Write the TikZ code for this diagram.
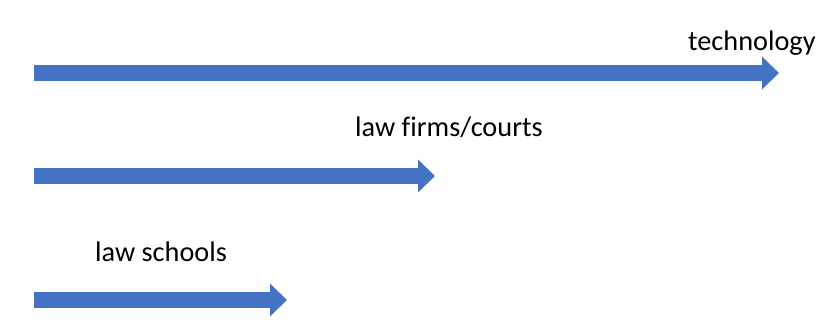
\documentclass[tikz,border=0pt]{standalone}
\usepackage{fontspec}
\setmainfont[Ligatures=NoCommon]{Carlito}
\usetikzlibrary{arrows.meta}
\definecolor{arrowblue}{HTML}{4472C4}
\tikzset{
  blockarrow/.style={draw=arrowblue, line width=16pt, -{Triangle[width=32pt,length=17pt]}},
  lbl/.style={anchor=base west, inner sep=0pt, font=\fontsize{28.3pt}{32pt}\selectfont, text=black}
}
\begin{document}
\begin{tikzpicture}[x=1pt,y=-1pt]
\useasboundingbox[fill=white] (0,0) rectangle (820,333);
\coordinate (t0) at (34,73);
\coordinate (t1) at (779,73);
\coordinate (f0) at (34,176);
\coordinate (f1) at (435,176);
\coordinate (s0) at (34,300);
\coordinate (s1) at (287,300);
\draw[blockarrow] (t0) -- (t1);
\draw[blockarrow] (f0) -- (f1);
\draw[blockarrow] (s0) -- (s1);
\node[lbl] (tech) at (688,50) {technology};
\node[lbl] (firms) at (355,136) {law firms/courts};
\node[lbl] (schools) at (95,261) {law schools};
\end{tikzpicture}
\end{document}
